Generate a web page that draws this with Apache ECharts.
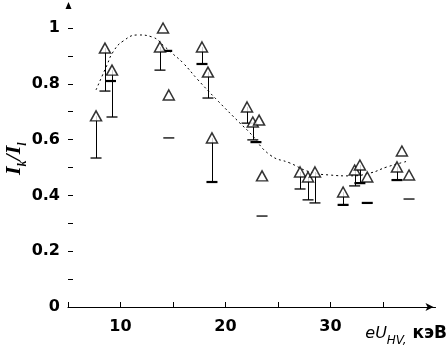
<!DOCTYPE html>
<html>
<head>
<meta charset="utf-8">
<script src="https://cdn.jsdelivr.net/npm/echarts@6/dist/echarts.min.js"></script>
<style>
  html, body { margin: 0; padding: 0; background: #fff; }
  #chart { width: 447px; height: 358px; }
</style>
</head>
<body>
<div id="chart"></div>
<script>
// Measured points (triangles)
const pointX = [7.67, 8.52, 9.19, 14.05, 13.76, 14.6, 17.76, 18.33, 18.71, 22.05, 22.6, 23.2, 23.48, 27.1, 27.86, 28.52, 31.2, 32.3, 32.8, 33.5, 36.8, 36.33, 37.48];
const pointY = [0.685, 0.928, 0.849, 1.0, 0.932, 0.76, 0.932, 0.842, 0.606, 0.717, 0.663, 0.670, 0.47, 0.484, 0.466, 0.484, 0.412, 0.491, 0.509, 0.466, 0.559, 0.502, 0.473];

// Error bars hanging below points (x, top value, lower value, thick cap flag)
const barX    = [7.67, 8.52, 9.19, 13.76, 17.76, 18.33, 18.71, 22.05, 22.6, 27.1, 27.86, 28.52, 31.2, 32.3, 32.8, 36.33];
const barTop  = [0.685, 0.928, 0.849, 0.932, 0.932, 0.842, 0.606, 0.717, 0.663, 0.484, 0.466, 0.484, 0.412, 0.491, 0.509, 0.502];
const barLow  = [0.534, 0.774, 0.681, 0.849, 0.871, 0.749, 0.448, 0.659, 0.599, 0.423, 0.384, 0.373, 0.366, 0.434, 0.444, 0.455];
const barThick = [0, 0, 0, 0, 1, 0, 1, 0, 0, 0, 0, 0, 1, 0, 1, 1];

// Isolated dashes (lower values without connecting line)
const dashX = [9.05, 14.4, 14.6, 22.9, 23.48, 33.5, 37.48];
const dashY = [0.81, 0.918, 0.606, 0.591, 0.326, 0.373, 0.387];
const dashThick = [1, 1, 0, 1, 0, 1, 0];

// Fit curve
const fitX = [7.67, 8.71, 9.29, 10.24, 11.67, 13.0, 14.24, 14.9, 15.95, 17.38, 19.19, 21.38, 22.33, 24.24, 26.14, 28.05, 29.95, 31.86, 33.76, 35.38, 37.38];
const fitY = [0.778, 0.867, 0.914, 0.953, 0.975, 0.968, 0.932, 0.91, 0.875, 0.814, 0.742, 0.659, 0.624, 0.545, 0.516, 0.484, 0.473, 0.47, 0.48, 0.502, 0.523];

// Axis ticks / labels
const xTicks = [5, 10, 15, 20, 25, 30, 35];
const xLabels = [10, 20, 30];
const yTicks = [0, 0.1, 0.2, 0.3, 0.4, 0.5, 0.6, 0.7, 0.8, 0.9, 1.0];
const yLabels = [0, 0.2, 0.4, 0.6, 0.8, 1];

const chart = echarts.init(document.getElementById('chart'), null, { renderer: 'canvas' });

const zip = (a, b) => a.map((v, i) => [v, b[i]]);

function renderBar(params, api) {
  const x = api.value(0), top = api.value(1), low = api.value(2), thick = api.value(3);
  const p1 = api.coord([x, top]);
  const p2 = api.coord([x, low]);
  return {
    type: 'group',
    children: [
      { type: 'line', shape: { x1: Math.round(p1[0]) + 0.5, y1: p1[1], x2: Math.round(p2[0]) + 0.5, y2: p2[1] }, style: { stroke: '#000', lineWidth: 1 } },
      { type: 'line', shape: { x1: p2[0] - 5.5, y1: p2[1], x2: p2[0] + 5.5, y2: p2[1] }, style: { stroke: '#000', lineWidth: thick ? 2.2 : 1.3 } }
    ]
  };
}
function renderDash(params, api) {
  const x = api.value(0), y = api.value(1), thick = api.value(2);
  const p = api.coord([x, y]);
  return { type: 'line', shape: { x1: p[0] - 5.5, y1: p[1], x2: p[0] + 5.5, y2: p[1] }, style: { stroke: '#000', lineWidth: thick ? 2.2 : 1.3 } };
}

const font = 'DejaVu Sans, Verdana, sans-serif';

chart.setOption({
  backgroundColor: '#fff',
  animation: false,
  grid: { left: 68, right: 11.5, top: 28, bottom: 51, containLabel: false },
  xAxis: {
    type: 'value', min: 5, max: 40,
    axisLine: { show: true, lineStyle: { color: '#000', width: 1.2 }, symbol: ['none', 'arrow'], symbolSize: [6, 8], symbolOffset: [0, -2] },
    axisTick: { show: true, inside: true, length: 5, customValues: xTicks, lineStyle: { color: '#000', width: 1 } },
    axisLabel: { show: true, customValues: xLabels, margin: 12, color: '#000', fontFamily: font, fontWeight: 'bold', fontSize: 16 },
    splitLine: { show: false }
  },
  yAxis: {
    type: 'value', min: 0, max: 1,
    axisLine: { show: false },
    axisTick: { show: true, inside: true, length: 5, customValues: yTicks, lineStyle: { color: '#000', width: 1 } },
    axisLabel: { show: true, customValues: yLabels, margin: 8, color: '#000', fontFamily: font, fontWeight: 'bold', fontSize: 16 },
    splitLine: { show: false }
  },
  graphic: [
    { type: 'polygon', shape: { points: [[68.5, 2], [65.5, 9], [71.5, 9]] }, style: { fill: '#000' } },
    {
      type: 'text', x: 3, y: 175, rotation: Math.PI / 2,
      style: {
        rich: {
          b: { fontFamily: 'Liberation Serif, Times New Roman, serif', fontStyle: 'italic', fontWeight: 'bold', fontSize: 22, fill: '#000' },
          s: { fontFamily: 'Liberation Serif, Times New Roman, serif', fontStyle: 'italic', fontWeight: 'bold', fontSize: 12, fill: '#000', verticalAlign: 'bottom', padding: [0, 0, -4, 0] }
        },
        text: '{b|I}{s|k}{b|/I}{s|l}',
        verticalAlign: 'top'
      }
    },
    {
      type: 'text', right: 0, top: 325,
      style: {
        rich: {
          i: { fontFamily: font, fontStyle: 'italic', fontSize: 16, fill: '#000' },
          s: { fontFamily: font, fontStyle: 'italic', fontSize: 12, fill: '#000', verticalAlign: 'bottom', padding: [0, 0, -5, 0] },
          n: { fontFamily: font, fontWeight: 'bold', fontSize: 17, fill: '#000' }
        },
        text: '{i|eU}{s|HV,}{n| кэВ}'
      }
    }
  ],
  series: [
    {
      type: 'line', data: zip(fitX, fitY), smooth: 0.5, showSymbol: false, silent: true,
      lineStyle: { color: '#000', width: 1, type: [2, 3] }, z: 1
    },
    {
      type: 'custom', renderItem: renderBar, z: 2, silent: true,
      data: barX.map((x, i) => [x, barTop[i], barLow[i], barThick[i]])
    },
    {
      type: 'custom', renderItem: renderDash, z: 2, silent: true,
      data: dashX.map((x, i) => [x, dashY[i], dashThick[i]])
    },
    {
      type: 'scatter', data: zip(pointX, pointY), symbol: 'triangle', symbolSize: [11, 10], z: 3,
      itemStyle: { color: '#fff', borderColor: '#000', borderWidth: 1.5 }
    }
  ]
});
</script>
</body>
</html>
